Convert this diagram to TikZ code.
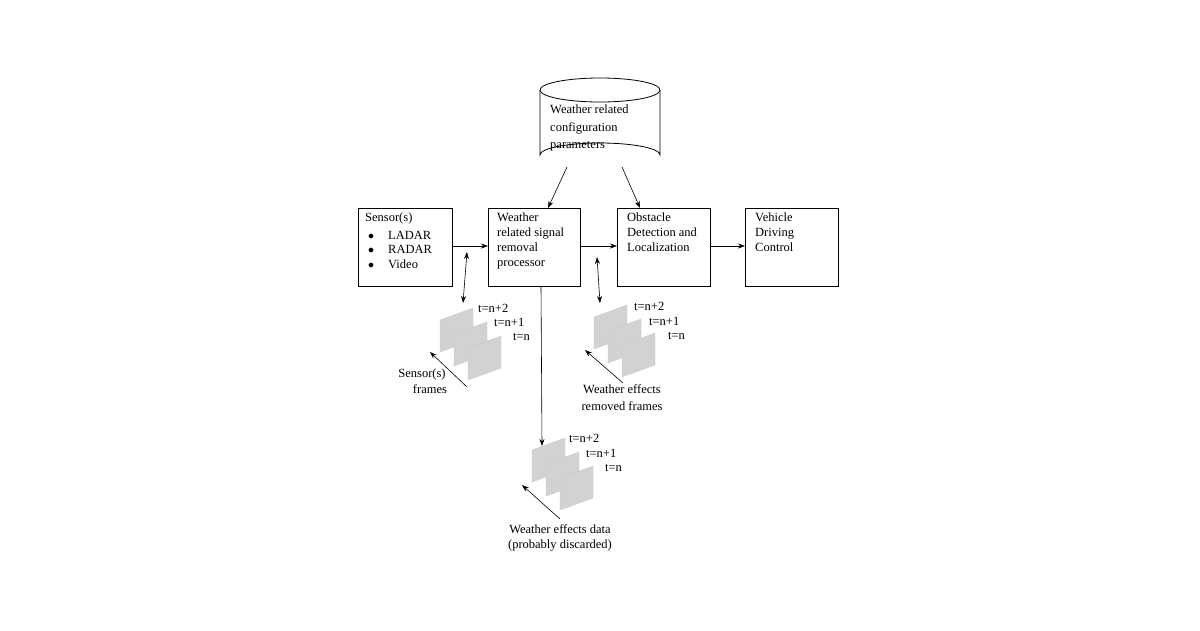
\documentclass[tikz,border=0pt]{standalone}
\usepackage{fontspec}
\setmainfont{Liberation Serif}
\usetikzlibrary{arrows.meta,shapes.geometric}
\begin{document}
\begin{tikzpicture}[x=1pt,y=-1pt,
  every node/.style={font=\fontsize{12.5}{15}\selectfont},
  box/.style={draw,thick,minimum width=0pt},
  txt/.style={anchor=north west,align=left,inner sep=0pt},
  lab/.style={inner sep=0pt,align=center},
  arr/.style={-{Stealth[length=7pt,width=5pt]},semithick},
  darr/.style={{Stealth[length=7pt,width=5pt]}-{Stealth[length=7pt,width=5pt]},semithick},
  frm/.style={fill=gray!35,draw=gray!45,line width=0.3pt}]
\useasboundingbox (0,0) rectangle (1200,630);
% boxes
\draw[box] (358,208) rectangle (452,286);
\node (sens) at (405,247) [minimum width=94pt,minimum height=78pt] {};
\draw[box] (488,208) rectangle (580,286);
\node (proc) at (534,247) [minimum width=92pt,minimum height=78pt] {};
\draw[box] (617,208) rectangle (710,286);
\node (obst) at (663.5,247) [minimum width=93pt,minimum height=78pt] {};
\draw[box] (745,208) rectangle (838,286);
\node (veh) at (791.5,247) [minimum width=93pt,minimum height=78pt] {};
\node[txt] at (365,213) {Sensor(s)};
\node[txt] at (368,231) {$\bullet$\hspace{14pt}LADAR\\[-0.5pt]$\bullet$\hspace{14pt}RADAR\\[-0.5pt]$\bullet$\hspace{14pt}Video};
\node[txt] at (497,213) {Weather\\related signal\\removal\\processor};
\node[txt] at (627,213) {Obstacle\\Detection and\\Localization};
\node[txt] at (755,213) {Vehicle\\Driving\\Control};
% cylinder
\draw[thick] (540,90) -- (540,155) arc[start angle=180,end angle=360,x radius=60,y radius=12] -- (660,90);
\draw[thick] (600,90) ellipse [x radius=60,y radius=12];
\node (db) at (600,130) [minimum width=120pt,minimum height=70pt] {};
\node[txt,font=\fontsize{12.5}{17.5}\selectfont] at (550,105) {Weather related\\configuration\\parameters};
% main arrows
\draw[arr] (452,246) -- (488,246);
\draw[arr] (580,246) -- (617,246);
\draw[arr] (710,246) -- (745,246);
\coordinate (c1) at (567,167); \coordinate (c2) at (548,208);
\coordinate (c3) at (622,167); \coordinate (c4) at (640,208);
\draw[arr] (c1) -- (c2);
\draw[arr] (c3) -- (c4);
% double arrows
\coordinate (d1) at (467,252); \coordinate (d2) at (463,303);
\coordinate (d3) at (597,257); \coordinate (d4) at (600,303);
\draw[darr] (d1) -- (d2);
\draw[darr] (d3) -- (d4);
\coordinate (p1) at (541,286); \coordinate (p2) at (542,446);
\draw[arr] (p1) -- (p2);
% frames macro-like via foreach
\foreach \fx/\fy in {440/352, 594/349, 532/482}{
  \foreach \i in {0,1,2}{
    \draw[frm] ({\fx+14*\i},{\fy+14*\i}) -- ++(0,-32) -- ++(33,-12) -- ++(0,32) -- cycle;
  }
}
% labels sensor frames
\node[txt] at (478,304) {t=n+2};
\node[txt] at (494,318) {t=n+1};
\node[txt] at (513,333) {t=n};
\coordinate (a1) at (467,387); \coordinate (a2) at (430,352);
\draw[arr] (a1) -- (a2);
\node[lab] at (422,374) {Sensor(s)};
\node[lab] at (430,389) {frames};
% removed frames
\node[txt] at (634,302) {t=n+2};
\node[txt] at (649,317) {t=n+1};
\node[txt] at (668,332) {t=n};
\coordinate (b1) at (623,383); \coordinate (b2) at (585,350);
\draw[arr] (b1) -- (b2);
\node[lab] at (622,389) {Weather effects};
\node[lab] at (622,406) {removed frames};
% discarded
\node[txt] at (569,434) {t=n+2};
\node[txt] at (586,449) {t=n+1};
\node[txt] at (605,464) {t=n};
\coordinate (e1) at (560,519); \coordinate (e2) at (522,485);
\draw[arr] (e1) -- (e2);
\node[lab] at (560,529) {Weather effects data};
\node[lab] at (560,546) {(probably discarded)};
\end{tikzpicture}
\end{document}
